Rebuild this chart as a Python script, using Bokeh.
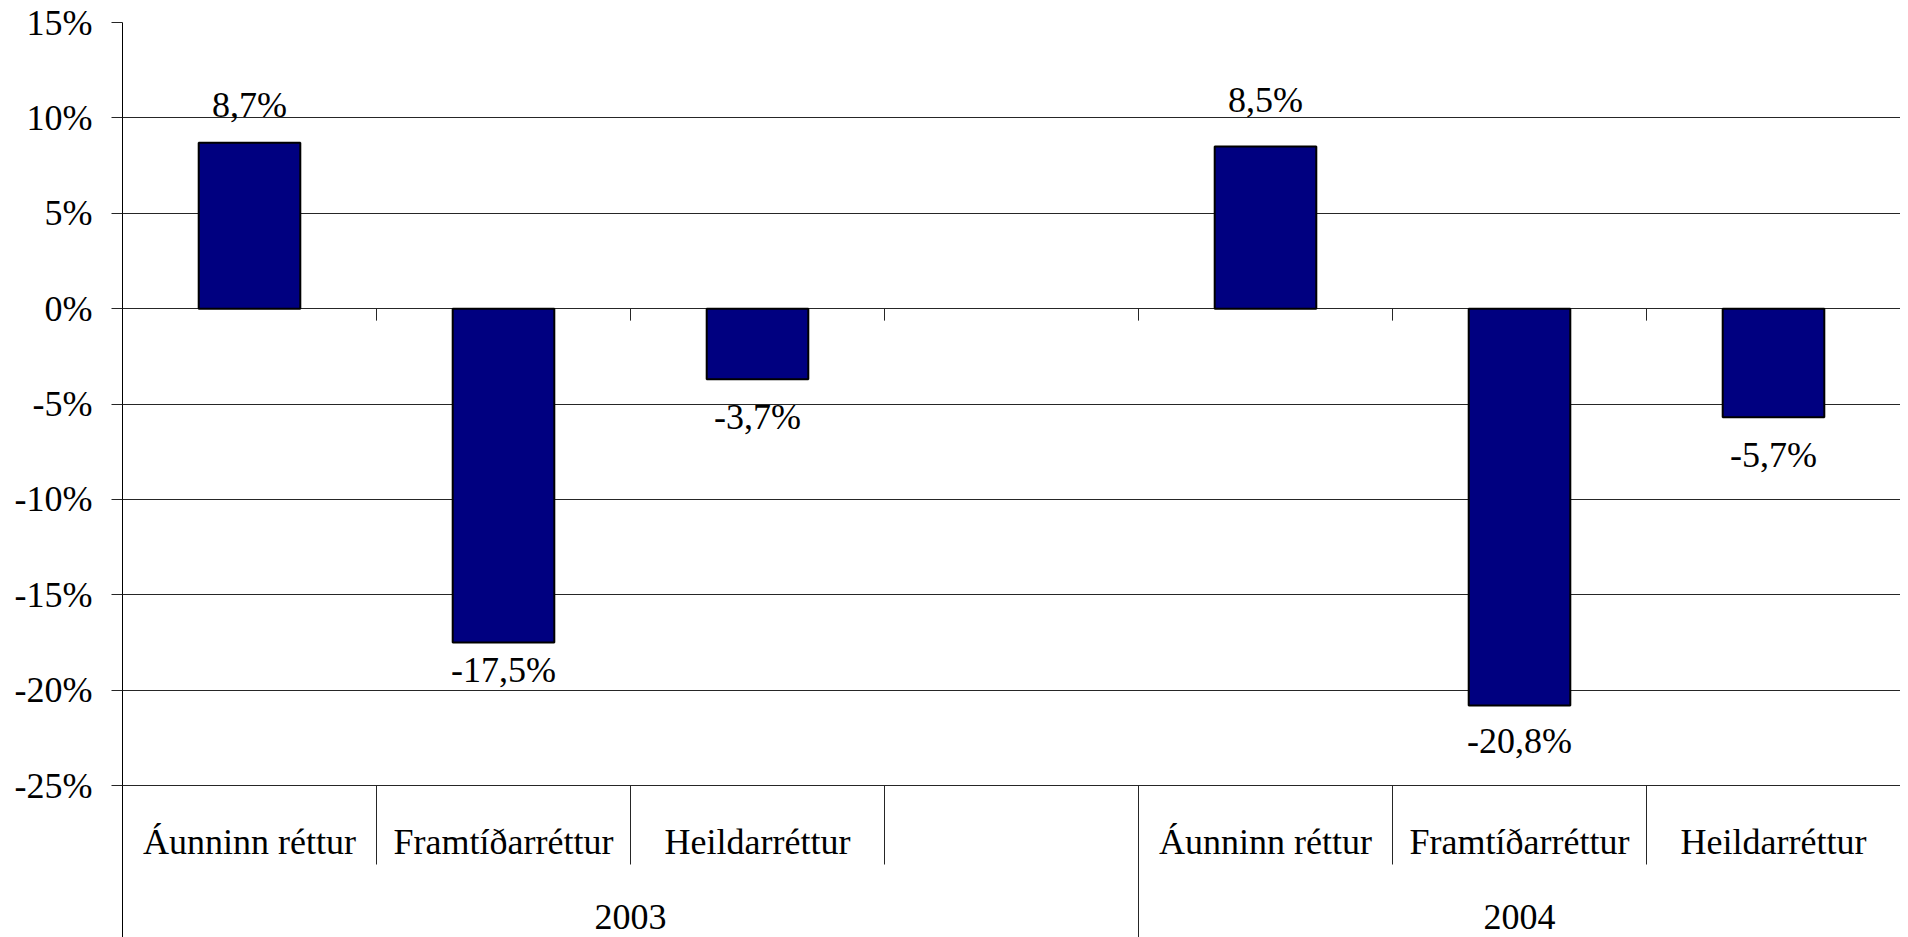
from bokeh.plotting import figure
from bokeh.models import Range1d, FixedTicker, PrintfTickFormatter, ColumnDataSource
from bokeh.core.properties import value
from bokeh.embed import file_html
from bokeh.resources import INLINE

# ---------------- data ----------------
categories = ["Áunninn réttur", "Framtíðarréttur", "Heildarréttur", "",
              "Áunninn réttur", "Framtíðarréttur", "Heildarréttur"]
years = ["2003", "2004"]
year_slots = [4, 3]
values = [8.7, -17.5, -3.7, None, 8.5, -20.8, -5.7]
y_ticks = [-25, -20, -15, -10, -5, 0, 5, 10, 15]

# ---------------- layout / style ----------------
W, H = 1900, 937
border_left, border_top = 122, 22
px_per_pct = 19.075
frame_h = H - border_top
y_max = 15
y_min = y_max - frame_h / px_per_pct
floor = min(y_ticks)
label_offsets = [-38, 28, 38, 0, -46, 36, 38]   # px (screen, + = down), label centre
FONT = "Liberation Serif"
FS = "36px"
BAR_COLOR = "#000080"
GRID_COLOR = "#262626"

n = len(categories)
p = figure(width=W, height=H, output_backend="svg", toolbar_location=None,
           x_range=Range1d(0, n), y_range=Range1d(y_min, y_max),
           x_axis_location=None, min_border_left=border_left, min_border_right=0,
           min_border_top=border_top, min_border_bottom=0)
p.outline_line_color = None
p.background_fill_color = "white"
p.border_fill_color = "white"

# y axis
p.yaxis.ticker = FixedTicker(ticks=y_ticks)
p.yaxis.formatter = PrintfTickFormatter(format="%d%%")
p.yaxis.major_label_text_font = FONT
p.yaxis.major_label_text_font_size = FS
p.yaxis.major_label_text_color = "black"
p.yaxis.major_tick_out = 11
p.yaxis.major_tick_in = 0
p.yaxis.minor_tick_out = 0
p.yaxis.minor_tick_in = 0
p.yaxis.major_label_standoff = 19
p.yaxis.axis_line_color = "black"
p.yaxis.major_tick_line_color = GRID_COLOR
p.ygrid.ticker = FixedTicker(ticks=y_ticks)
p.ygrid.grid_line_color = GRID_COLOR
p.ygrid.grid_line_width = 1
p.xgrid.visible = False

# bars
bx = [i + 0.5 for i, v in enumerate(values) if v is not None]
bv = [v for v in values if v is not None]
p.vbar(x=bx, top=bv, bottom=0, width=0.4, fill_color=BAR_COLOR,
       line_color="black", line_width=2)

# value labels
lbl = ColumnDataSource(dict(
    x=bx, y=bv,
    text=[f"{v:.1f}%".replace(".", ",") for v in bv],
    off=[o for o, v in zip(label_offsets, values) if v is not None],
))
p.text(x="x", y="y", text="text", y_offset="off", source=lbl,
       text_font=value(FONT), text_font_size=FS, text_color="black",
       text_align="center", text_baseline="middle")

# category axis (drawn inside an extended frame)
bounds = []
acc = 0
for s in year_slots:
    acc += s
    bounds.append(acc)
group_bounds = [0] + bounds
inner = [b for b in range(1, n) if b not in group_bounds]
short_y = floor - 79 / px_per_pct
tick_y = -12 / px_per_pct

# small ticks on the 0 line
p.segment(x0=list(range(1, n)), x1=list(range(1, n)), y0=[0] * (n - 1),
          y1=[tick_y] * (n - 1), line_color=GRID_COLOR, line_width=1)
# separators between categories
p.segment(x0=inner, x1=inner, y0=[floor] * len(inner), y1=[short_y] * len(inner),
          line_color=GRID_COLOR, line_width=1)
gb = [b for b in bounds[:-1]]
p.segment(x0=gb, x1=gb, y0=[floor] * len(gb), y1=[y_min] * len(gb),
          line_color=GRID_COLOR, line_width=1)

# category labels
p.text(x=[i + 0.5 for i in range(n)], y=[floor] * n, text=categories,
       y_offset=56, text_font=value(FONT), text_font_size=FS, text_color="black",
       text_align="center", text_baseline="middle")
# year labels
starts = [0] + bounds[:-1]
p.text(x=[(a + b) / 2 for a, b in zip(starts, bounds)], y=[floor] * len(years),
       text=years, y_offset=131, text_font=value(FONT), text_font_size=FS,
       text_color="black", text_align="center", text_baseline="middle")

open("out.html", "w").write(file_html(p, INLINE))
